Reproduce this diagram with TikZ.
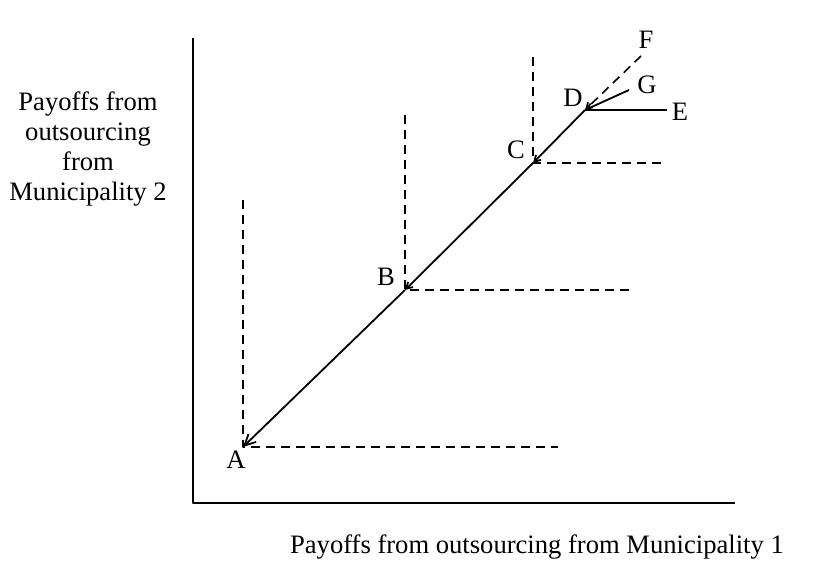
\documentclass[tikz,border=0pt]{standalone}
\usepackage{fontspec}
\setmainfont{Liberation Serif}
\usetikzlibrary{arrows.meta}
\begin{document}
\begin{tikzpicture}[x=0.5pt, y=-0.5pt, font=\fontsize{13.3}{15}\selectfont, line join=round,
		path/.style={line width=0.9pt},
		guide/.style={line width=0.8pt, dash pattern=on 4.5pt off 3pt},
		tip/.style={-{Straight Barb[length=3pt,width=3.5pt]}},
		bigtip/.style={-{Straight Barb[length=5.5pt,width=5.5pt]}}]
	\useasboundingbox (0,0) rectangle (821,566);
	% axes
	\coordinate (O) at (193,503);
	\coordinate (ytop) at (193,38);
	\coordinate (xend) at (735,503);
	\draw[line width=1.1pt] (ytop) -- (O) -- (xend);
	\node[align=center] (ylab) at (88,149) {Payoffs from\\outsourcing\\from\\Municipality 2};
	\node (xlab) at (537,547) {Payoffs from outsourcing from Municipality 1};
	% points
	\coordinate (A) at (243,447);
	\coordinate (B) at (405,290);
	\coordinate (C) at (533,163);
	\coordinate (D) at (585,110);
	\coordinate (E) at (667,110);
	\coordinate (F) at (641,56);
	\coordinate (G) at (629,90);
	\node (la) at (236,460) {A};
	\node (lb) at (386,277) {B};
	\node (lc) at (516,150) {C};
	\node (ld) at (573,98) {D};
	\node (le) at (680,112) {E};
	\node (lf) at (646,40) {F};
	\node (lg) at (647,85) {G};
	% dashed guides
	\coordinate (Au) at (243,200);
	\coordinate (Ar) at (558,447);
	\coordinate (Bu) at (405,115);
	\coordinate (Br) at (632,290);
	\coordinate (Cu) at (533,57);
	\coordinate (Cr) at (667,163);
	\draw[guide] (Au) -- (A) -- (Ar);
	\draw[guide] (Bu) -- (B) -- (Br);
	\draw[guide] (Cu) -- (C) -- (Cr);
	% path
	\draw[path, bigtip] (B) -- (A);
	\draw[path, tip] (C) -- (B);
	\draw[path, tip] (D) -- (C);
	\draw[path] (D) -- (E);
	\draw[path, tip] (G) -- (D);
	\draw[guide, tip] (F) -- (D);
\end{tikzpicture}
\end{document}
